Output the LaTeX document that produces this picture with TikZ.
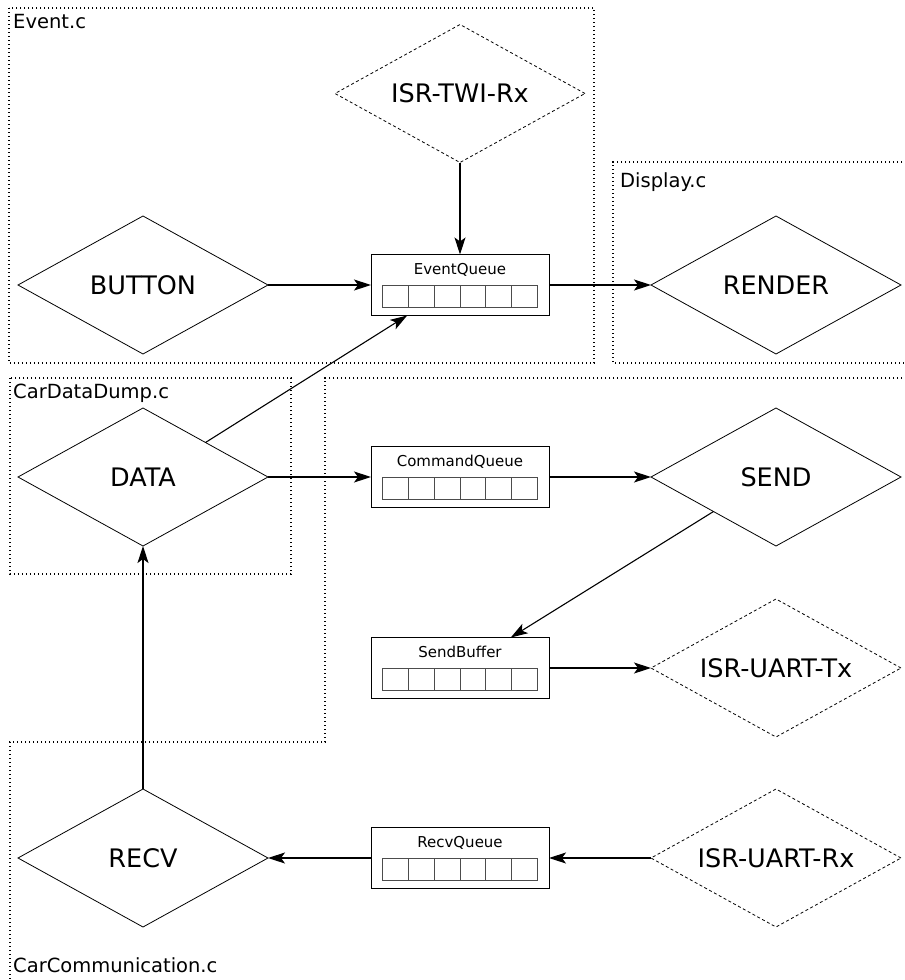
\documentclass[tikz,border=0pt]{standalone}
\usepackage{fontspec}
\setmainfont{DejaVu Sans}
\usetikzlibrary{arrows.meta,positioning,shapes.geometric}

\begin{document}
\begin{tikzpicture}[>={Stealth[length=17pt,width=11pt,inset=4pt]}, x=1pt, y=1pt,
    every node/.style={font=\fontsize{25.5}{30}\selectfont},
    task/.style={draw, diamond, aspect=1.8, inner sep=1pt, outer sep=0pt,
        line width=0.8pt, minimum width=250pt, minimum height=138pt},
    isr/.style={task, dash pattern=on 3pt off 2.5pt},
    queue/.style={draw, rectangle, line width=1pt, outer sep=0pt,
        minimum width=178pt, minimum height=61pt},
    qtitle/.style={anchor=base, inner sep=0pt, font=\fontsize{15}{18}\selectfont},
    cell/.style={draw=black!70, line width=0.9pt, inner sep=0pt,
        minimum width=25.9pt, minimum height=21.7pt},
    region/.style={line width=1.4pt, dash pattern=on 1.4pt off 2.6pt},
    rlabel/.style={anchor=base west, inner sep=0pt, font=\fontsize{19.5}{23}\selectfont},
    link/.style={->, line width=1.1pt}]
\useasboundingbox (0,0) rectangle (905,-980);

% source files
\draw[region] (9,-8) rectangle (594,-363);
\draw[region] (910,-162) -- (613,-162) -- (613,-363) -- (910,-363);
\draw[region] (10,-378) rectangle (291,-574);
\draw[region] (910,-378) -- (325,-378) -- (325,-742) -- (10,-742) -- (10,-990);
\node[rlabel] (eventc) at (13,-28) {Event.c};
\node[rlabel] (displayc) at (620,-187) {Display.c};
\node[rlabel] (dumpc) at (13,-398) {CarDataDump.c};
\node[rlabel] (commc) at (13,-972) {CarCommunication.c};

% tasks and queues
\node[task] (button) at (143,-285) {BUTTON};
\node[queue, right=103pt of button] (evq) {};
\node[task, right=102pt of evq] (render) {RENDER};
\node[isr, above=92pt of evq] (twi) {ISR-TWI-Rx};
\node[task, below=54pt of button] (data) {DATA};
\node[queue, right=103pt of data] (cmdq) {};
\node[task, right=102pt of cmdq] (send) {SEND};
\node[queue, below=130pt of cmdq] (sendbuf) {};
\node[isr, right=102pt of sendbuf] (uarttx) {ISR-UART-Tx};
\node[queue, below=129pt of sendbuf] (recvq) {};
\node[task, left=103pt of recvq] (recv) {RECV};
\node[isr, right=102pt of recvq] (uartrx) {ISR-UART-Rx};

\foreach \q/\qname in {evq/EventQueue, cmdq/CommandQueue, sendbuf/SendBuffer, recvq/RecvQueue} {
    \node[qtitle] (\q-title) at ([yshift=-20pt]\q.north) {\qname};
    \foreach \i in {1,...,6}
        \node[cell] (\q-\i) at ([xshift={(\i-3.5)*25.9}, yshift=19.2]\q.south) {};
}

% data flow
\draw[link] (button) -- (evq);
\draw[link] (twi) -- (evq);
\draw[link] (evq) -- (render);
\draw[link] (data.north east) -- (evq.210);
\draw[link] (data) -- (cmdq);
\draw[link] (cmdq) -- (send);
\draw[link] (send.south west) -- (sendbuf.31);
\draw[link] (sendbuf) -- (uarttx);
\draw[link] (uartrx) -- (recvq);
\draw[link] (recvq) -- (recv);
\draw[link] (recv) -- (data);
\end{tikzpicture}
\end{document}
